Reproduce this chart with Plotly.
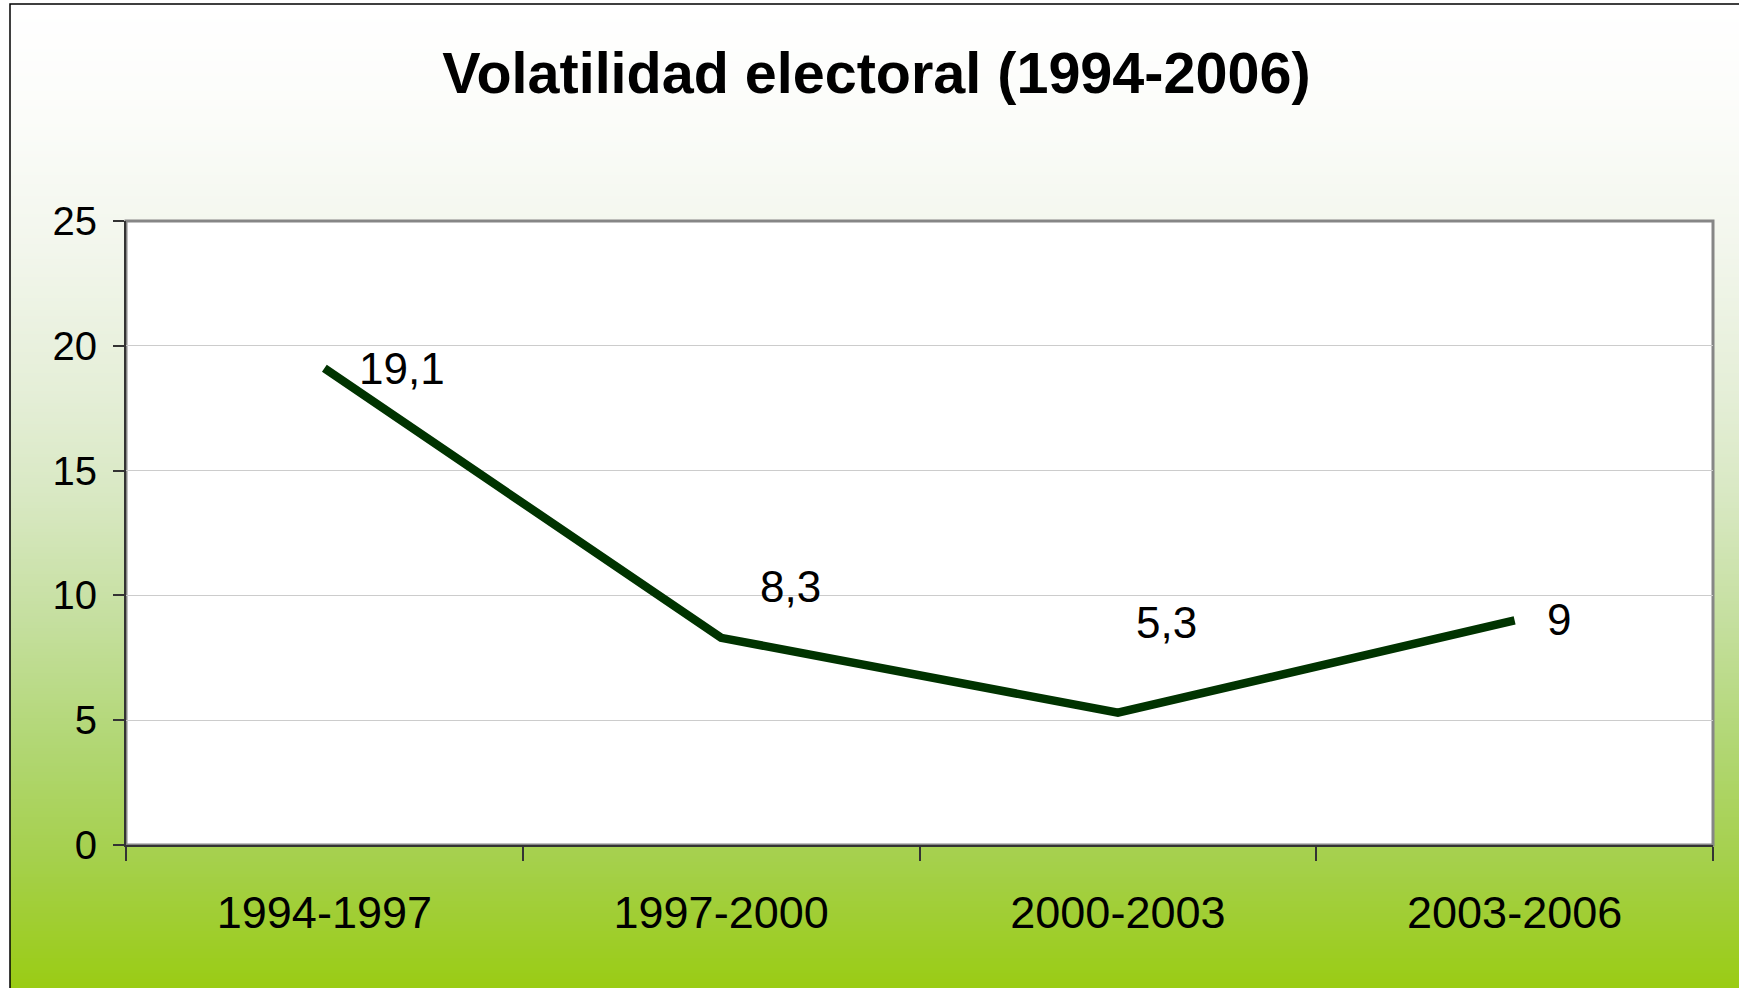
import plotly.graph_objects as go

# data
periodos = ["1994-1997", "1997-2000", "2000-2003", "2003-2006"]
volatilidad = [19.1, 8.3, 5.3, 9]
etiquetas = ["19,1", "8,3", "5,3", "9"]
y_ticks = [0, 5, 10, 15, 20, 25]

# label offsets in px (labels were moved by hand in the original)
label_dx = [78, 69, 49, 44]
label_dy = [0, 51, 90, 1]

W, H = 1739, 988
ML, MR, MT, MB = 126, 26, 221, 143
PW, PH = W - ML - MR, H - MT - MB


def px(x):
    return (x - ML) / PW


def py(y):
    return (H - MB - y) / PH


# background gradient stops (pixel y, rgb)
stops = [
    (4, (255, 255, 255)),
    (120, (251, 252, 249)),
    (250, (242, 246, 236)),
    (400, (228, 238, 214)),
    (500, (216, 232, 194)),
    (620, (197, 223, 159)),
    (740, (178, 215, 117)),
    (860, (165, 208, 76)),
    (988, (154, 204, 20)),
]


def color_at(y):
    for (y0, c0), (y1, c1) in zip(stops[:-1], stops[1:]):
        if y0 <= y <= y1:
            t = (y - y0) / (y1 - y0)
            return "rgb(%d,%d,%d)" % tuple(round(a + (b - a) * t) for a, b in zip(c0, c1))
    return "rgb(%d,%d,%d)" % stops[-1][1]


shapes = []
step = 3
y = 4
while y < H:
    shapes.append(dict(type="rect", xref="paper", yref="paper", layer="below",
                       x0=px(10), x1=px(W + 5), y0=py(y + step + 0.5), y1=py(y),
                       fillcolor=color_at(y + step / 2), line=dict(width=0)))
    y += step

# white plot area
shapes.append(dict(type="rect", xref="paper", yref="paper", layer="below",
                   x0=0, x1=1, y0=0, y1=1, fillcolor="white", line=dict(width=0)))
# plot area border
shapes.append(dict(type="rect", xref="paper", yref="paper", layer="below",
                   x0=0, x1=1, y0=0, y1=1, line=dict(color="#868686", width=3)))
# outer chart frame
shapes.append(dict(type="rect", xref="paper", yref="paper", layer="above",
                   x0=px(10), x1=px(W + 10), y0=py(H + 10), y1=py(4),
                   line=dict(color="black", width=1.5)))

fig = go.Figure(go.Scatter(
    x=periodos, y=volatilidad, mode="lines",
    line=dict(color="#003300", width=8.5),
    hoverinfo="skip",
))

for p, v, t, dx, dy in zip(periodos, volatilidad, etiquetas, label_dx, label_dy):
    fig.add_annotation(x=p, y=v, text=t, showarrow=False,
                       xanchor="center", yanchor="middle",
                       xshift=dx, yshift=dy,
                       font=dict(size=44, color="black", family="Liberation Sans, Arial, sans-serif"))

fig.update_layout(
    width=W, height=H,
    margin=dict(l=ML, r=MR, t=MT, b=MB),
    paper_bgcolor="white",
    plot_bgcolor="white",
    showlegend=False,
    shapes=shapes,
    font=dict(family="Liberation Sans, Arial, sans-serif", color="black"),
    title=dict(text="Volatilidad electoral (1994-2006)", xref="container", yref="container",
               x=0.504, y=0.926, xanchor="center", yanchor="middle",
               font=dict(size=57.5, weight="bold", color="black",
                         family="Liberation Sans, Arial, sans-serif")),
    xaxis=dict(type="category", range=[-0.5, 3.5], showgrid=False,
               showline=True, linecolor="#333333", linewidth=2,
               ticks="outside", tickson="boundaries", ticklen=14,
               tickcolor="#333333", tickwidth=1.5,
               ticklabelstandoff=27,
               tickfont=dict(size=45, color="black")),
    yaxis=dict(range=[0, 25], tickvals=y_ticks, showgrid=True,
               gridcolor="#cccccc", gridwidth=1, zeroline=False,
               showline=True, linecolor="#333333", linewidth=2,
               ticks="outside", ticklen=11, tickcolor="#333333", tickwidth=1.5,
               ticklabelstandoff=8,
               tickfont=dict(size=40, color="black")),
)

fig.write_html("out.html", config={"displayModeBar": False},
               post_script="document.body.style.margin='0px';"
               "document.body.style.overflow='hidden';")
